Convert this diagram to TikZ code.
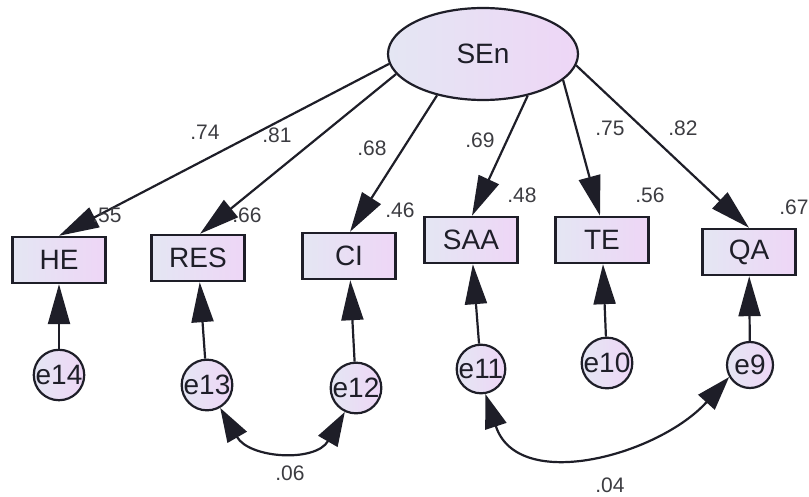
\documentclass[tikz,border=0pt]{standalone}
\usepackage{fontspec}
\setmainfont{Liberation Sans}
\usetikzlibrary{arrows.meta,shapes.geometric}
\definecolor{fillL}{RGB}{228,230,243}
\definecolor{fillR}{RGB}{238,214,246}
\definecolor{ink}{RGB}{30,30,40}
\definecolor{lab}{RGB}{60,60,65}
\tikzset{
  obs/.style={draw=ink, line width=2.4pt, left color=fillL, right color=fillR, minimum width=93pt, minimum height=46pt, inner sep=0pt, font=\fontsize{28}{28}\selectfont, text=ink},
  lat/.style={ellipse, draw=ink, line width=2.2pt, left color=fillL, right color=fillR, minimum width=190pt, minimum height=92pt, inner sep=0pt, font=\fontsize{28}{28}\selectfont, text=ink},
  err/.style={circle, draw=ink, line width=2.2pt, left color=fillL, right color=fillR, minimum size=46pt, inner sep=0pt, font=\fontsize{28}{28}\selectfont, text=ink},
  pth/.style={draw=ink, line width=2.2pt, -{Triangle[length=40pt,width=22pt]}},
  cov/.style={draw=ink, line width=2.2pt, {Triangle[length=34pt,width=22pt]}-{Triangle[length=34pt,width=22pt]}},
  num/.style={font=\fontsize{21}{21}\selectfont, text=lab, inner sep=0pt}
}
\begin{document}
\begin{tikzpicture}[x=1pt,y=-1pt]
\useasboundingbox (0,0) rectangle (809,497);
\node[lat] (sen) at (483,54) {SEn};
\node[obs] (he) at (59,260) {HE};
\node[obs] (res) at (198,258) {RES};
\node[obs] (ci) at (349,256) {CI};
\node[obs] (saa) at (471,240) {SAA};
\node[obs] (te) at (602,240) {TE};
\node[obs] (qa) at (749,252) {QA};
\node[err] (e14) at (59,375) {e14};
\node[err] (e13) at (207,385) {e13};
\node[err] (e12) at (356,388) {e12};
\node[err] (e11) at (481,369) {e11};
\node[err] (e10) at (607,363) {e10};
\node[err] (e9) at (750,365) {e9};
\draw[pth] (sen.186) -- (he.north);
\draw[pth] (sen.193) -- ([xshift=2pt]res.north);
\draw[pth] (sen.222) -- ([xshift=1pt]ci.north);
\draw[pth] (sen.317) -- ([xshift=1pt]saa.north);
\draw[pth] (sen.342) -- ([xshift=-2pt]te.north);
\draw[pth] (sen.353) -- (qa.north);
\draw[pth] (e14) -- (he);
\draw[pth] (e13) -- (res);
\draw[pth] (e12) -- (ci);
\draw[pth] (e11) -- (saa);
\draw[pth] (e10) -- (te);
\draw[pth] (e9) -- (qa);
\draw[cov] (e13.-60) to[out=-60,in=-120,looseness=1.2] (e12.-115);
\draw[cov] (e11.-80) to[out=-72,in=-132,looseness=1.1] (e9.-150);
\node[num] (l1) at (205,132) {.74};
\node[num] (l2) at (277,135) {.81};
\node[num] (l3) at (372,148) {.68};
\node[num] (l4) at (480,140) {.69};
\node[num] (l5) at (610,128) {.75};
\node[num] (l6) at (683,128) {.82};
\node[num] (r1) at (107,215) {.55};
\node[num] (r2) at (247,215) {.66};
\node[num] (r3) at (400,210) {.46};
\node[num] (r4) at (522,195) {.48};
\node[num] (r5) at (650,195) {.56};
\node[num] (r6) at (794,207) {.67};
\node[num] (c1) at (290,473) {.06};
\node[num] (c2) at (610,485) {.04};
\end{tikzpicture}
\end{document}
